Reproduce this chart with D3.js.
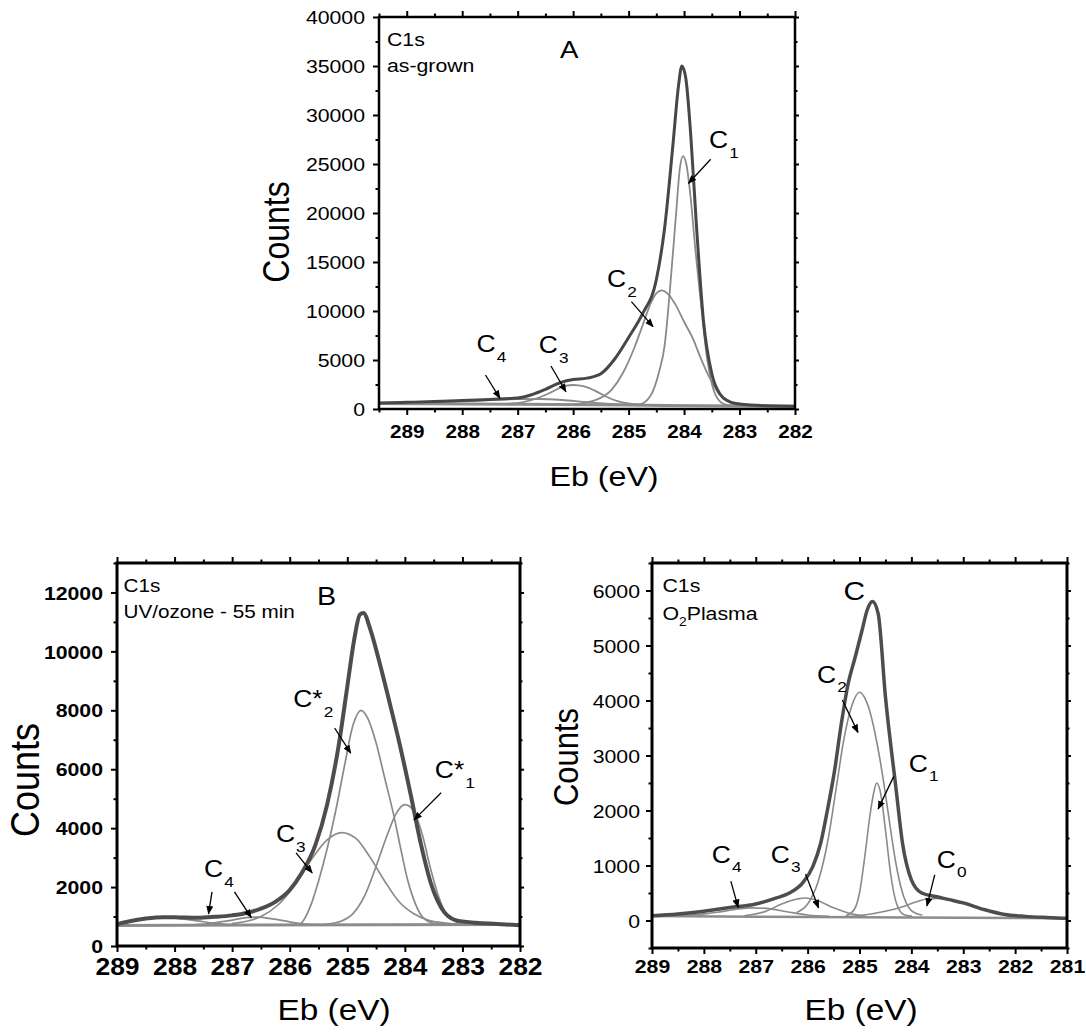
<!DOCTYPE html>
<html>
<head>
<meta charset="utf-8">
<script src="https://cdn.jsdelivr.net/npm/d3@7"></script>
<style>
  body { margin: 0; background: #fff; }
  svg { display: block; }
  text { font-family: Arial, "Liberation Sans", Helvetica, sans-serif; }
</style>
</head>
<body>
<svg id="fig" width="1086" height="1034"></svg>
<script>
// ---------- Panel A: C1s, as-grown ----------
const aTicksX = [289, 288, 287, 286, 285, 284, 283, 282];
const aMinorX = [289.5, 288.5, 287.5, 286.5, 285.5, 284.5, 283.5, 282.5];
const aTicksY = [0, 5000, 10000, 15000, 20000, 25000, 30000, 35000, 40000];
const aMinorY = [2500, 7500, 12500, 17500, 22500, 27500, 32500, 37500];

const aBaselineEb     = [289.5, 287, 285, 283, 282];
const aBaselineCounts = [560, 480, 400, 300, 270];
const aEnvelopeEb     = [289.5, 289, 288.5, 288, 287.5, 287, 286.75, 286.5, 286.25, 286, 285.75, 285.5, 285.25, 285, 284.75, 284.5, 284.35, 284.2, 284.1, 284.04, 283.97, 283.88, 283.78, 283.65, 283.5, 283.35, 283.2, 283, 282.5, 282];
const aEnvelopeCounts = [600, 680, 770, 870, 980, 1120, 1450, 2000, 2650, 3000, 3150, 3600, 5100, 7300, 9700, 13200, 18500, 27000, 33000, 35000, 33800, 28000, 19000, 9000, 3600, 1500, 800, 500, 330, 290];
const aC1Eb     = [285.0, 284.8, 284.6, 284.45, 284.35, 284.25, 284.15, 284.07, 284.02, 283.96, 283.88, 283.8, 283.7, 283.6, 283.5, 283.4, 283.25, 283.0];
const aC1Counts = [380, 470, 1400, 3800, 6500, 12500, 19500, 24800, 25800, 25000, 21500, 16500, 11000, 5800, 2600, 1100, 450, 300];
const aC2Eb     = [286.0, 285.6, 285.3, 285.1, 284.9, 284.75, 284.6, 284.5, 284.4, 284.3, 284.15, 284.0, 283.85, 283.7, 283.55, 283.4, 283.2, 283.0, 282.7];
const aC2Counts = [470, 900, 2000, 3700, 6200, 8500, 10800, 11800, 12100, 11800, 10600, 8900, 7300, 5200, 3300, 1800, 800, 450, 330];
const aC3Eb     = [287.2, 286.9, 286.6, 286.4, 286.2, 286.0, 285.8, 285.6, 285.4, 285.2, 285.0, 284.7, 284.3];
const aC3Counts = [520, 700, 1200, 1700, 2250, 2450, 2300, 1850, 1250, 800, 560, 430, 400];
const aC4Eb     = [289.5, 289, 288.5, 288, 287.5, 287, 286.6, 286.2, 285.8, 285.4, 285.0, 284.5];
const aC4Counts = [570, 610, 680, 780, 900, 1000, 1020, 920, 720, 540, 450, 410];

const aLabels = [
  { main: "C", sub: "1", eb: 283.55, counts: 26630 },
  { main: "C", sub: "2", eb: 285.39, counts: 12450 },
  { main: "C", sub: "3", eb: 286.62, counts: 5680 },
  { main: "C", sub: "4", eb: 287.74, counts: 5850 }
];
const aArrows = [
  [283.52, 25480, 283.92, 23030],
  [284.95, 10950, 284.56, 8400],
  [286.40, 4390, 286.13, 1765],
  [287.58, 3470, 287.32, 1090]
];

// ---------- Panel B: C1s, UV/ozone 55 min ----------
const bTicksX = [289, 288, 287, 286, 285, 284, 283, 282];
const bMinorX = [288.5, 287.5, 286.5, 285.5, 284.5, 283.5, 282.5];
const bTicksY = [0, 2000, 4000, 6000, 8000, 10000, 12000];
const bMinorY = [1000, 3000, 5000, 7000, 9000, 11000, 13000];

const bBaselineEb     = [289, 282];
const bBaselineCounts = [700, 730];
const bEnvelopeEb     = [289, 288.8, 288.5, 288.2, 287.9, 287.6, 287.3, 287.0, 286.75, 286.5, 286.25, 286.0, 285.8, 285.55, 285.35, 285.15, 285.0, 284.88, 284.78, 284.72, 284.6, 284.45, 284.27, 284.09, 283.9, 283.72, 283.54, 283.36, 283.12, 282.77, 282.4, 282];
const bEnvelopeCounts = [740, 830, 930, 980, 970, 960, 990, 1040, 1120, 1270, 1500, 1900, 2450, 3450, 4800, 6800, 8800, 10400, 11250, 11300, 10750, 9700, 8300, 6850, 5150, 3450, 2080, 1270, 880, 790, 750, 700];
const bC2sEb     = [286.0, 285.83, 285.65, 285.5, 285.35, 285.2, 285.05, 284.9, 284.76, 284.65, 284.5, 284.35, 284.2, 284.05, 283.96, 283.85, 283.7, 283.5, 283.2];
const bC2sCounts = [720, 740, 1300, 2200, 3300, 4600, 6100, 7500, 8000, 7750, 6900, 5700, 4500, 3100, 2300, 1600, 1000, 770, 730];
const bC1sEb     = [285.4, 285.1, 284.9, 284.7, 284.5, 284.3, 284.15, 284.0, 283.85, 283.7, 283.55, 283.4, 283.25, 283.05, 282.8];
const bC1sCounts = [730, 850, 1100, 1700, 2700, 3800, 4500, 4800, 4600, 3800, 2600, 1600, 1000, 780, 730];
const bC3Eb     = [287.0, 286.5, 286.2, 285.9, 285.6, 285.35, 285.1, 284.85, 284.6, 284.35, 284.1, 283.85, 283.6, 283.3, 283.0];
const bC3Counts = [760, 1000, 1400, 2100, 3000, 3600, 3850, 3650, 3000, 2200, 1500, 1100, 880, 780, 740];
const bC4aEb     = [289, 288.7, 288.4, 288.15, 287.9, 287.6, 287.3, 287.0];
const bC4aCounts = [740, 850, 940, 960, 930, 850, 770, 720];
const bC4bEb     = [287.8, 287.4, 287.0, 286.75, 286.55, 286.3, 286.0, 285.7, 285.4];
const bC4bCounts = [710, 760, 880, 960, 980, 920, 820, 740, 715];

const bLabels = [
  { main: "C*", sub: "2", eb: 285.94, counts: 8110 },
  { main: "C*", sub: "1", eb: 283.48, counts: 5700 },
  { main: "C", sub: "3", eb: 286.24, counts: 3530 },
  { main: "C", sub: "4", eb: 287.49, counts: 2340 }
];
const bArrows = [
  [285.22, 7400, 284.94, 6550],
  [283.37, 5200, 283.84, 4280],
  [285.89, 3160, 285.61, 2480],
  [287.35, 1840, 287.41, 1090],
  [286.96, 1840, 286.67, 970]
];

// ---------- Panel C: C1s, O2 plasma ----------
const cTicksX = [289, 288, 287, 286, 285, 284, 283, 282, 281];
const cMinorX = [288.5, 287.5, 286.5, 285.5, 284.5, 283.5, 282.5, 281.5];
const cTicksY = [0, 1000, 2000, 3000, 4000, 5000, 6000];
const cMinorY = [-500, 500, 1500, 2500, 3500, 4500, 5500, 6500];

const cBaselineEb     = [289, 285, 281];
const cBaselineCounts = [80, 60, 40];
const cEnvelopeEb     = [289, 288.5, 288, 287.5, 287, 286.6, 286.35, 286.1, 285.9, 285.75, 285.62, 285.48, 285.35, 285.22, 285.08, 284.95, 284.85, 284.75, 284.64, 284.5, 284.3, 284.17, 284.0, 283.8, 283.53, 283.27, 283.0, 282.6, 282.2, 281.8, 281.4, 281];
const cEnvelopeCounts = [85, 120, 170, 235, 300, 410, 500, 680, 980, 1400, 2000, 2730, 3580, 4300, 4800, 5280, 5650, 5800, 5580, 4070, 2430, 1400, 740, 500, 435, 380, 320, 200, 110, 75, 55, 40];
const cC2Eb     = [286.2, 286.0, 285.8, 285.6, 285.45, 285.3, 285.15, 285.0, 284.9, 284.8, 284.7, 284.6, 284.5, 284.4, 284.3, 284.2, 284.1, 284.0, 283.8];
const cC2Counts = [150, 300, 700, 1500, 2400, 3300, 3900, 4150, 4050, 3800, 3400, 2900, 2300, 1650, 1050, 600, 320, 180, 100];
const cC1Eb     = [285.25, 285.1, 285.0, 284.9, 284.8, 284.72, 284.67, 284.6, 284.5, 284.4, 284.3, 284.15, 284.0];
const cC1Counts = [90, 200, 500, 1150, 1900, 2350, 2500, 2350, 1650, 850, 350, 110, 80];
const cC0Eb     = [285.5, 285.0, 284.6, 284.2, 283.9, 283.7, 283.5, 283.2, 283.0, 282.6, 282.2, 281.8, 281.4, 281.0];
const cC0Counts = [60, 90, 150, 240, 340, 390, 400, 360, 310, 200, 110, 70, 50, 40];
const cC3Eb     = [287.2, 286.8, 286.5, 286.2, 286.05, 285.8, 285.5, 285.2, 284.9];
const cC3Counts = [90, 170, 300, 390, 410, 360, 230, 130, 80];
const cC4Eb     = [288.4, 288.0, 287.6, 287.1, 286.8, 286.4, 286.0, 285.6];
const cC4Counts = [90, 120, 170, 230, 220, 160, 100, 75];

const cLabels = [
  { main: "C", sub: "2", eb: 285.82, counts: 4320 },
  { main: "C", sub: "1", eb: 284.05, counts: 2700 },
  { main: "C", sub: "0", eb: 283.51, counts: 955 },
  { main: "C", sub: "3", eb: 286.71, counts: 1045 },
  { main: "C", sub: "4", eb: 287.85, counts: 1045 }
];
const cArrows = [
  [285.33, 4010, 285.03, 3420],
  [284.34, 2620, 284.64, 2030],
  [283.55, 830, 283.70, 265],
  [286.04, 845, 285.79, 230],
  [287.48, 715, 287.34, 240]
];

// ---------- drawing ----------
const SX = 1.15;           // horizontal text stretch used throughout the figure
const svg = d3.select("#fig");
svg.append("rect").attr("width", 1086).attr("height", 1034).attr("fill", "#fff");
const defs = svg.append("defs");
defs.append("marker")
  .attr("id", "ah").attr("viewBox", "0 0 10 8")
  .attr("refX", 9).attr("refY", 4)
  .attr("markerWidth", 9).attr("markerHeight", 7)
  .attr("markerUnits", "userSpaceOnUse").attr("orient", "auto")
  .append("path").attr("d", "M0,0L10,4L0,8Z").attr("fill", "#000");

function stretchedText(g, x, y, anchor, size, weight) {
  return g.append("text")
    .attr("transform", `translate(${x},${y}) scale(${SX},1)`)
    .attr("text-anchor", anchor)
    .style("font-size", size + "px")
    .style("font-weight", weight || "normal")
    .attr("fill", "#000");
}

function drawPanel(p) {
  const g = svg.append("g");
  const x = d3.scaleLinear().domain(p.xDomain).range([p.left, p.right]);
  const y = d3.scaleLinear().domain(p.yDomain).range([p.bottom, p.top]);

  const clipId = "clip" + p.id;
  defs.append("clipPath").attr("id", clipId).append("rect")
    .attr("x", p.left).attr("y", p.top)
    .attr("width", p.right - p.left).attr("height", p.bottom - p.top);
  const plot = g.append("g").attr("clip-path", `url(#${clipId})`);

  const line = d3.line().x(d => x(d[0])).y(d => y(d[1])).curve(d3.curveMonotoneX);
  const rank = { base: 0, comp: 1, env: 2 };
  p.curves.slice().sort((a, b) => rank[a.role] - rank[b.role]).forEach(c => {
    const pts = c.eb.map((e, i) => [e, c.counts[i]]);
    const st = p.style[c.role];
    plot.append("path")
      .attr("d", line(pts))
      .attr("fill", "none")
      .attr("stroke", st.color)
      .attr("stroke-width", st.width)
      .attr("stroke-linejoin", "round")
      .attr("stroke-linecap", "round");
  });

  // axes: major and minor ticks on all four sides, pointing outward
  function axisAt(axis, tx, ty) {
    const a = g.append("g").attr("transform", `translate(${tx},${ty})`).call(axis);
    a.select(".domain").remove();
    a.selectAll("line").attr("stroke", "#000").attr("stroke-width", p.tickW);
    return a;
  }
  const fmt = d3.format("d");
  const bottom = axisAt(d3.axisBottom(x).tickValues(p.xTicks).tickSize(p.majorLen).tickFormat(fmt), 0, p.bottom);
  bottom.selectAll("text")
    .attr("y", p.xLabelOffset).attr("dy", 0)
    .attr("transform", `scale(${SX},1)`)
    .attr("fill", "#000")
    .style("font-family", "Arial, 'Liberation Sans', sans-serif")
    .style("font-size", p.xTickSize + "px")
    .style("font-weight", p.xTickWeight);
  axisAt(d3.axisBottom(x).tickValues(p.xMinor).tickSize(p.minorLen).tickFormat(""), 0, p.bottom);
  axisAt(d3.axisTop(x).tickValues(p.xTicks).tickSize(p.majorLen).tickFormat(""), 0, p.top);
  axisAt(d3.axisTop(x).tickValues(p.xMinor).tickSize(p.minorLen).tickFormat(""), 0, p.top);

  const left = axisAt(d3.axisLeft(y).tickValues(p.yTicks).tickSize(p.majorLen).tickFormat(fmt), p.left, 0);
  left.selectAll("text")
    .attr("x", -p.yLabelGap / SX).attr("dy", "0.36em")
    .attr("transform", `scale(${SX},1)`)
    .attr("fill", "#000")
    .style("font-family", "Arial, 'Liberation Sans', sans-serif")
    .style("font-size", p.yTickSize + "px")
    .style("font-weight", p.yTickWeight);
  axisAt(d3.axisLeft(y).tickValues(p.yMinor).tickSize(p.minorLen).tickFormat(""), p.left, 0);
  axisAt(d3.axisRight(y).tickValues(p.yTicks).tickSize(p.majorLen - 2).tickFormat(""), p.right, 0);
  axisAt(d3.axisRight(y).tickValues(p.yMinor).tickSize(p.minorLen - 1).tickFormat(""), p.right, 0);

  // frame
  g.append("rect")
    .attr("x", p.left).attr("y", p.top)
    .attr("width", p.right - p.left).attr("height", p.bottom - p.top)
    .attr("fill", "none").attr("stroke", "#000").attr("stroke-width", p.frameW);

  // axis titles
  g.append("text")
    .attr("transform", `translate(${p.yTitle[0]},${p.yTitle[1]}) scale(${SX},1) rotate(-90)`)
    .attr("text-anchor", "middle").attr("dy", "0.36em")
    .style("font-size", p.yTitleSize + "px").attr("fill", "#000")
    .text("Counts");
  stretchedText(g, p.xTitle[0], p.xTitle[1], "middle", p.xTitleSize).text("Eb (eV)");

  // sample notes
  const n1 = stretchedText(g, p.left + p.noteDx, p.top + 29, "start", p.noteSize);
  n1.text("C1s");
  const n2 = stretchedText(g, p.left + p.noteDx, p.top + p.note2Dy, "start", p.noteSize);
  p.note2(n2);

  // panel letter
  stretchedText(g, x(p.letter.eb), y(p.letter.counts), "middle", p.letterSize).text(p.letter.text);

  // peak labels and arrows
  p.labels.forEach(l => {
    const t = stretchedText(g, x(l.eb), y(l.counts), "start", p.annSize);
    t.append("tspan").text(l.main);
    t.append("tspan").attr("dx", 1).attr("dy", p.subDy).style("font-size", p.annSubSize + "px").text(l.sub);
  });
  p.arrows.forEach(a => {
    g.append("line")
      .attr("x1", x(a[0])).attr("y1", y(a[1]))
      .attr("x2", x(a[2])).attr("y2", y(a[3]))
      .attr("stroke", "#000").attr("stroke-width", 1.3)
      .attr("marker-end", "url(#ah)");
  });
}

drawPanel({
  id: "A", xDomain: [289.5, 282], yDomain: [0, 40000],
  left: 379, right: 795, top: 17, bottom: 409,
  xTicks: aTicksX, xMinor: aMinorX, yTicks: aTicksY, yMinor: aMinorY,
  majorLen: 6, minorLen: 3.5, tickW: 2, frameW: 2.5,
  xTickSize: 18, xTickWeight: "bold", xLabelOffset: 29,
  yTickSize: 18.5, yTickWeight: "normal", yLabelGap: 14,
  yTitle: [276, 232], yTitleSize: 32, xTitle: [604, 486], xTitleSize: 28,
  noteDx: 8, note2Dy: 55, noteSize: 18.5,
  note2: t => t.text("as-grown"),
  letter: { text: "A", eb: 286.07, counts: 35820 }, letterSize: 24,
  annSize: 23, annSubSize: 15, subDy: 10,
  labels: aLabels, arrows: aArrows,
  style: { env: { color: "#474747", width: 3 }, comp: { color: "#8a8a8a", width: 1.8 }, base: { color: "#8c8c8c", width: 3 } },
  curves: [
    { role: "base", eb: aBaselineEb, counts: aBaselineCounts },
    { role: "comp", eb: aC4Eb, counts: aC4Counts },
    { role: "comp", eb: aC3Eb, counts: aC3Counts },
    { role: "comp", eb: aC2Eb, counts: aC2Counts },
    { role: "comp", eb: aC1Eb, counts: aC1Counts },
    { role: "env", eb: aEnvelopeEb, counts: aEnvelopeCounts }
  ]
});

drawPanel({
  id: "B", xDomain: [289, 282], yDomain: [0, 13000],
  left: 117, right: 520, top: 563, bottom: 946,
  xTicks: bTicksX, xMinor: bMinorX, yTicks: bTicksY, yMinor: bMinorY,
  majorLen: 6, minorLen: 3.5, tickW: 2, frameW: 3,
  xTickSize: 23, xTickWeight: "bold", xLabelOffset: 29,
  yTickSize: 18.5, yTickWeight: "bold", yLabelGap: 14,
  yTitle: [24, 780], yTitleSize: 36, xTitle: [334, 1020], xTitleSize: 29,
  noteDx: 6.5, note2Dy: 55, noteSize: 18,
  note2: t => t.text("UV/ozone - 55 min"),
  letter: { text: "B", eb: 285.36, counts: 11575 }, letterSize: 25,
  annSize: 23, annSubSize: 15, subDy: 10,
  labels: bLabels, arrows: bArrows,
  style: { env: { color: "#4d4d4d", width: 4 }, comp: { color: "#8a8a8a", width: 1.7 }, base: { color: "#8c8c8c", width: 3 } },
  curves: [
    { role: "base", eb: bBaselineEb, counts: bBaselineCounts },
    { role: "comp", eb: bC4aEb, counts: bC4aCounts },
    { role: "comp", eb: bC4bEb, counts: bC4bCounts },
    { role: "comp", eb: bC3Eb, counts: bC3Counts },
    { role: "comp", eb: bC2sEb, counts: bC2sCounts },
    { role: "comp", eb: bC1sEb, counts: bC1sCounts },
    { role: "env", eb: bEnvelopeEb, counts: bEnvelopeCounts }
  ]
});

drawPanel({
  id: "C", xDomain: [289, 281], yDomain: [-500, 6500],
  left: 652, right: 1067, top: 563, bottom: 948,
  xTicks: cTicksX, xMinor: cMinorX, yTicks: cTicksY, yMinor: cMinorY,
  majorLen: 6, minorLen: 3.5, tickW: 2, frameW: 3,
  xTickSize: 18.5, xTickWeight: "bold", xLabelOffset: 25,
  yTickSize: 18.5, yTickWeight: "normal", yLabelGap: 12,
  yTitle: [565, 757], yTitleSize: 31, xTitle: [861, 1020], xTitleSize: 29,
  noteDx: 10.5, note2Dy: 57, noteSize: 18.5,
  note2: t => {
    t.append("tspan").text("O");
    t.append("tspan").attr("dy", 6).style("font-size", "12px").text("2");
    t.append("tspan").attr("dy", -6).text("Plasma");
  },
  letter: { text: "C", eb: 285.10, counts: 5830 }, letterSize: 26,
  annSize: 23, annSubSize: 15, subDy: 9,
  labels: cLabels, arrows: cArrows,
  style: { env: { color: "#4d4d4d", width: 3.5 }, comp: { color: "#8a8a8a", width: 1.6 }, base: { color: "#8c8c8c", width: 2.5 } },
  curves: [
    { role: "base", eb: cBaselineEb, counts: cBaselineCounts },
    { role: "comp", eb: cC4Eb, counts: cC4Counts },
    { role: "comp", eb: cC3Eb, counts: cC3Counts },
    { role: "comp", eb: cC0Eb, counts: cC0Counts },
    { role: "comp", eb: cC2Eb, counts: cC2Counts },
    { role: "comp", eb: cC1Eb, counts: cC1Counts },
    { role: "env", eb: cEnvelopeEb, counts: cEnvelopeCounts }
  ]
});
</script>
</body>
</html>
